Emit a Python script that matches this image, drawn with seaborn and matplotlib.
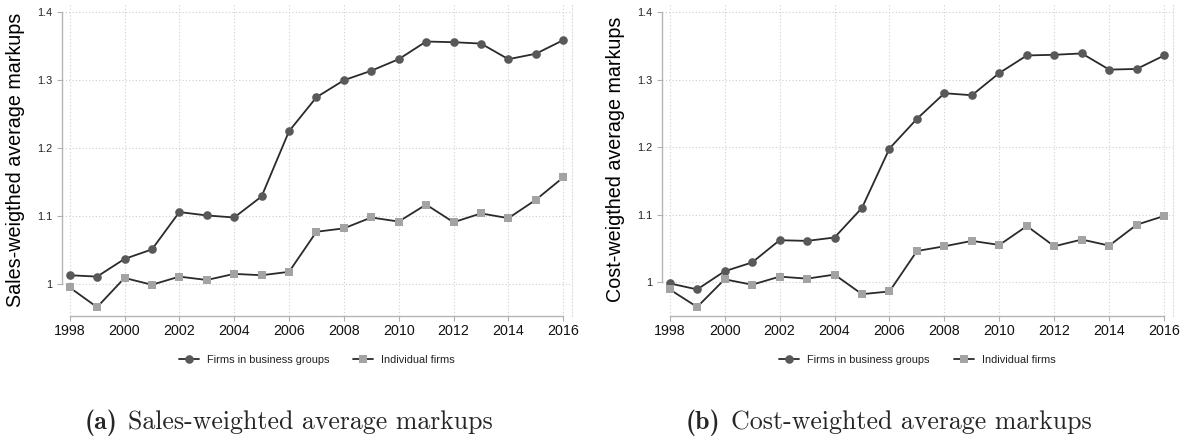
import matplotlib
matplotlib.use("Agg")
import matplotlib.pyplot as plt
import seaborn as sns
import pandas as pd

# Annual average markups, 1998-2016
years = list(range(1998, 2017))
sales_groups = [1.013, 1.011, 1.037, 1.051, 1.106, 1.101, 1.098, 1.129, 1.225, 1.275,
                1.300, 1.314, 1.331, 1.357, 1.356, 1.354, 1.331, 1.339, 1.359]
sales_indiv = [0.995, 0.966, 1.009, 0.999, 1.011, 1.006, 1.015, 1.013, 1.018, 1.077,
               1.082, 1.098, 1.092, 1.117, 1.091, 1.104, 1.097, 1.124, 1.157]
cost_groups = [0.998, 0.989, 1.016, 1.029, 1.062, 1.061, 1.066, 1.110, 1.198, 1.242,
               1.280, 1.277, 1.310, 1.336, 1.337, 1.339, 1.315, 1.316, 1.336]
cost_indiv = [0.989, 0.963, 1.004, 0.996, 1.008, 1.005, 1.011, 0.982, 0.986, 1.046,
              1.053, 1.061, 1.055, 1.083, 1.053, 1.063, 1.054, 1.085, 1.098]

series_names = ["Firms in business groups", "Individual firms"]
x_ticks = list(range(1998, 2017, 2))
y_ticks = [1.0, 1.1, 1.2, 1.3, 1.4]
y_tick_labels = ["1", "1.1", "1.2", "1.3", "1.4"]
y_labels = ["Sales-weigthed average markups", "Cost-weigthed average markups"]
captions = [("(a)", "Sales-weighted average markups"),
            ("(b)", "Cost-weighted average markups")]

sns.set_theme(style="white")
plt.rcParams["font.family"] = ["Liberation Sans", "DejaVu Sans"]

W, H = 1190, 438
fig = plt.figure(figsize=(W / 100, H / 100), dpi=100)
ax_a = fig.add_axes([62 / W, 1 - 316 / H, 510 / W, 313 / H])
ax_b = fig.add_axes([662 / W, 1 - 316 / H, 511 / W, 313 / H])

line_col = "#2a2a2a"
styles = [dict(marker="o", color="#595959", ms=6.2),
          dict(marker="s", color="#a3a3a3", ms=6.2)]

panels = [(ax_a, [sales_groups, sales_indiv], (0.953, 1.4137), y_labels[0], -0.073),
          (ax_b, [cost_groups, cost_indiv], (0.9496, 1.4138), y_labels[1], -0.072)]

for ax, (grp, ind), ylim, ylab, lab_x in panels:
    df = pd.DataFrame({
        "year": years * 2,
        "markup": grp + ind,
        "series": [series_names[0]] * len(years) + [series_names[1]] * len(years),
    })
    for name, st in zip(series_names, styles):
        sub = df[df["series"] == name]
        sns.lineplot(data=sub, x="year", y="markup", ax=ax, color=line_col,
                     linewidth=1.3, marker=st["marker"], markersize=st["ms"],
                     markerfacecolor=st["color"], markeredgecolor=st["color"],
                     markeredgewidth=0, label=name)

    ax.set_xlim(1997.72, 2016.32)
    ax.set_ylim(*ylim)
    ax.set_xticks(x_ticks)
    ax.set_xticklabels([str(y) for y in x_ticks], fontsize=10.3, color="#111111")
    ax.set_yticks(y_ticks)
    ax.set_yticklabels(y_tick_labels, fontsize=7.8, color="#222222")
    ax.tick_params(axis="both", direction="out", length=3.5, width=0.8,
                   color="#b0b0b0", left=True, bottom=True)
    ax.tick_params(axis="x", pad=2)
    ax.tick_params(axis="y", pad=3.5)

    ax.grid(True, linestyle=(0, (1, 2)), color="#cfcfcf", linewidth=0.8)
    ax.set_axisbelow(True)

    ax.spines["top"].set_visible(False)
    ax.spines["right"].set_linestyle((0, (1, 2)))
    ax.spines["right"].set_color("#dddddd")
    ax.spines["right"].set_linewidth(0.8)
    for side in ["left", "bottom"]:
        ax.spines[side].set_color("#b5b5b5")
        ax.spines[side].set_linewidth(1.0)
    ax.spines["left"].set_bounds(1.0, 1.4)
    ax.spines["bottom"].set_bounds(1998, 2016)

    ax.set_xlabel("")
    ax.set_ylabel(ylab, fontsize=14.2, color="#000000")
    ax.yaxis.set_label_coords(lab_x, 0.5)

    handles, labels = ax.get_legend_handles_labels()
    ax.legend(handles, labels, loc="center", bbox_to_anchor=(0.5, -0.14),
              ncol=2, frameon=False, fontsize=7.9, handlelength=1.8,
              handletextpad=0.75, columnspacing=2.2, labelcolor="#222222")

# Sub-figure captions: bold tag followed by the caption text
renderer = fig.canvas.get_renderer()
caption_x = [85, 686]
for (tag, body), x0 in zip(captions, caption_x):
    t = fig.text(x0 / W, 1 - 429 / H, tag, family="cmb10", fontsize=18.6,
                 ha="left", va="baseline")
    bb = t.get_window_extent(renderer=renderer)
    fig.text((bb.x1 + 10) / W, 1 - 429 / H, body, family="cmr10", fontsize=18.6,
             ha="left", va="baseline")

fig.savefig("out.png", dpi=100)
